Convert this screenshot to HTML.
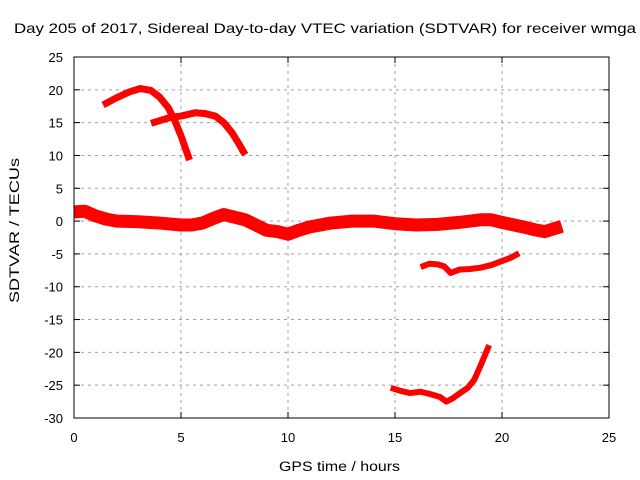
<!DOCTYPE html>
<html><head><meta charset="utf-8"><style>
body{margin:0;background:#fff}
svg{display:block;font-family:"Liberation Sans",sans-serif;font-size:13px}
</style></head><body>
<svg width="640" height="480">
<text x="14" y="33" textLength="622" lengthAdjust="spacingAndGlyphs" style="font-size:14px">Day 205 of 2017, Sidereal Day-to-day VTEC variation (SDTVAR) for receiver wmga</text>
<g id="grid"></g>
<g id="series"></g>
<rect x="74" y="57" width="535" height="361" fill="none" stroke="#000" stroke-width="1"/>
<g id="ticks"></g>
<text x="279" y="471" textLength="121" lengthAdjust="spacingAndGlyphs" style="font-size:13.5px">GPS time / hours</text>
<text transform="translate(19,303) rotate(-90)" textLength="145" lengthAdjust="spacingAndGlyphs" style="font-size:13.5px">SDTVAR / TECUs</text>
</svg>
<script>
const xTicks=[0,5,10,15,20,25];
const yTicks=[25,20,15,10,5,0,-5,-10,-15,-20,-25,-30];
const arc1H=[1.36,2.0,2.6,3.1,3.6,4.0,4.4,4.7,5.0,5.4];
const arc1V=[17.7,18.8,19.7,20.2,19.9,18.9,17.3,15.4,13.0,9.3];
const arc2H=[3.6,4.0,4.5,5.0,5.65,6.1,6.6,7.0,7.4,7.7,8.0];
const arc2V=[14.9,15.3,15.8,16.0,16.5,16.4,16.0,15.0,13.4,11.8,10.1];
const bandH=[0,0.5,1,1.5,2,3,4,5,5.5,6,6.5,7,7.5,8,8.5,9,9.5,10,10.5,11,12,13,14,15,16,17,18,19,19.5,20,21,21.5,22,22.8];
const bandV=[1.4,1.5,0.8,0.3,0,-0.1,-0.3,-0.6,-0.6,-0.3,0.4,1.0,0.6,0.2,-0.6,-1.4,-1.6,-2.0,-1.4,-0.9,-0.3,0,0,-0.4,-0.6,-0.5,-0.2,0.2,0.2,-0.2,-0.9,-1.3,-1.6,-0.8];
const arc3H=[16.2,16.6,17.0,17.3,17.6,18.0,18.5,19.0,19.5,19.9,20.4,20.8];
const arc3V=[-7.0,-6.5,-6.6,-6.9,-7.9,-7.4,-7.3,-7.1,-6.7,-6.2,-5.6,-4.9];
const arc4H=[14.8,15.3,15.7,16.2,16.7,17.1,17.4,17.7,18.0,18.4,18.7,19.0,19.4];
const arc4V=[-25.4,-25.9,-26.2,-26.0,-26.4,-26.8,-27.5,-27.0,-26.3,-25.4,-24.2,-22.0,-18.9];
const NS="http://www.w3.org/2000/svg";
const X=h=>74+h*535/25, Y=v=>57+(25-v)*361/55;
const grid=document.getElementById('grid'),ticks=document.getElementById('ticks'),ser=document.getElementById('series');
function mk(t,a,p){const e=document.createElementNS(NS,t);for(const k in a)e.setAttribute(k,a[k]);p.appendChild(e);return e;}
xTicks.forEach(t=>{const x=X(t);
 if(t>0&&t<25){const g=mk('line',{x1:x,x2:x,y1:57,y2:418,stroke:'#a0a0a0','stroke-dasharray':'3,4'},grid);
 
 }
 mk('line',{x1:x,x2:x,y1:418,y2:412,stroke:'#000'},ticks);mk('line',{x1:x,x2:x,y1:57,y2:63,stroke:'#000'},ticks);
 const l=mk('text',{x:x,y:442,'text-anchor':'middle'},ticks);l.textContent=t;
 
 });
yTicks.forEach(t=>{const y=Y(t);
 if(t<25&&t>-30){const g=mk('line',{x1:74,x2:609,y1:y,y2:y,stroke:'#a0a0a0','stroke-dasharray':'3,4'},grid);
 
 }
 mk('line',{x1:74,x2:80,y1:y,y2:y,stroke:'#000'},ticks);mk('line',{x1:603,x2:609,y1:y,y2:y,stroke:'#000'},ticks);
 const l=mk('text',{x:63,y:y+5,'text-anchor':'end'},ticks);l.textContent=t;
 
 });
function line(H,V,w,name){const p=mk('polyline',{points:H.map((h,i)=>X(h)+','+Y(V[i])).join(' '),fill:'none',stroke:'#ff0000','stroke-width':w,'stroke-linejoin':'round','stroke-linecap':'butt'},ser);
 
 }
line(arc1H,arc1V,7,'series-arc-1');
line(arc2H,arc2V,7,'series-arc-2');
line(bandH,bandV,13,'series-main-band');
line(arc3H,arc3V,6,'series-arc-3');
line(arc4H,arc4V,6,'series-arc-4');
</script>
</body></html>
